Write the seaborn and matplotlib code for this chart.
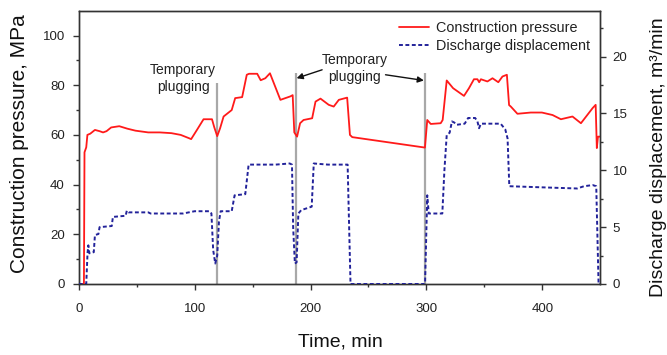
import numpy as np
import pandas as pd
import matplotlib
matplotlib.use("Agg")
import matplotlib.pyplot as plt
import seaborn as sns

# ---- data ----
t_pressure = [0, 4.5, 5.0, 6.5, 7.5, 10, 14, 18, 21, 24, 28, 35, 42, 49, 60, 70, 80, 88, 95, 97,
              102, 107.7, 115, 117, 119.5, 122, 125, 132, 135, 141, 145, 147, 154, 157, 161, 165,
              174, 182.6, 184.6, 186, 188.4, 191, 194, 201.4, 204.3, 208.6, 215.7, 220, 224.4,
              231.6, 234, 236, 298.7, 300.7, 303.7, 312.3, 314, 317.5, 323, 332.4, 336.7, 341,
              344, 345.5, 347, 352.6, 357, 362, 365.6, 369.4, 371.3, 372.8, 378.5, 390, 399.6,
              408.8, 416, 426, 433.3, 443.4, 446, 447, 448, 449.5]
pressure = [0, 0, 53, 55, 60, 60.5, 62, 61.5, 61, 61.5, 63, 63.5, 62.5, 61.7, 61, 61, 60.7, 60, 58.7, 58.3,
            62, 66.3, 66.3, 63, 59.5, 62.7, 67.4, 70, 74.8, 75.2, 84.2, 84.6, 84.6, 82, 82.8, 84.8,
            74.1, 75.5, 76, 61, 59.3, 64.7, 66, 66.7, 73.4, 74.6, 72.1, 71.4, 74.1,
            75, 60, 59.1, 54.9, 66, 64.4, 64.7, 66, 81.9, 78.8, 75.7, 78.8, 82.4,
            82.4, 81.2, 82.4, 81.5, 82.8, 81.2, 83.5, 84.2, 72, 71.4, 68.5, 69, 69,
            68, 66.3, 67.4, 64.7, 70.8, 72.1, 54.7, 59.3, 59.3]

t_discharge = [0, 6.5, 7.6, 8.3, 9.2, 13, 14, 17, 18, 28.5, 29.5, 40.5, 41.5, 43, 60, 62, 90, 100,
               113, 114.5, 116, 117.8, 119.5, 121, 122.5, 132, 134.5, 143.7, 146.6, 170, 182, 184,
               185, 186.5, 188, 189.5, 192, 201, 202.8, 215, 232, 234.5, 298.8, 300.7, 302, 313.7,
               315.5, 317.5, 320, 322, 324, 326, 333, 336, 342, 344, 345.4, 347, 364, 368, 370,
               371.5, 400, 430, 436, 443.4, 446.5, 448.5, 450]
discharge = [0, 0, 2.7, 3.4, 2.7, 2.8, 4.3, 4.4, 5.0, 5.1, 5.9, 6.0, 6.45, 6.3, 6.3, 6.2, 6.2, 6.4,
             6.4, 6.2, 3.0, 1.8, 2.5, 5.5, 6.4, 6.4, 7.8, 7.9, 10.5, 10.5, 10.6, 10.5,
             5.0, 1.8, 1.9, 6.2, 6.5, 6.8, 10.6, 10.5, 10.5, 0, 0, 7.8, 6.2, 6.2,
             10.0, 13.1, 13.3, 14.3, 14.2, 14.0, 14.1, 14.6, 14.6, 14.3, 13.7, 14.1, 14.1, 13.6, 12.8,
             8.6, 8.5, 8.4, 8.6, 8.7, 8.6, 0, 0]

plug_times = [119.5, 187.7, 298.5]
plug_tops = [81, 85, 85]

df_p = pd.DataFrame({"Time": t_pressure, "Pressure": pressure})
df_q = pd.DataFrame({"Time": t_discharge, "Discharge": discharge})

sns.set_style("ticks")
plt.rcParams["font.family"] = ["Liberation Sans", "DejaVu Sans"]

fig = plt.figure(figsize=(6.67, 3.55), dpi=100)
ax = fig.add_axes([0.118, 0.2, 0.782, 0.77])
ax2 = ax.twinx()

axis_col = "#333333"

# gray plugging lines
ax.vlines(plug_times, 0, plug_tops, colors="#a8a8a8", linewidth=1.6, zorder=1)

sns.lineplot(data=df_p, x="Time", y="Pressure", ax=ax, color="#ff1a1a", linewidth=1.3,
             estimator=None, sort=False, label="Construction pressure", legend=False, zorder=3)
sns.lineplot(data=df_q, x="Time", y="Discharge", ax=ax2, color="#22229a", linewidth=1.4,
             estimator=None, sort=False, label="Discharge displacement", legend=False, zorder=3)
ax2.lines[-1].set_linestyle((0, (2.0, 1.3)))

ax.set_xlim(0, 450)
ax.set_ylim(0, 110)
ax2.set_ylim(0, 24.04)

ax.set_xticks([0, 100, 200, 300, 400])
ax.set_xticks(np.arange(50, 450, 100), minor=True)
ax.set_yticks([0, 20, 40, 60, 80, 100])
ax.set_yticks(np.arange(10, 110, 20), minor=True)
ax2.set_yticks([0, 5, 10, 15, 20])
ax2.set_yticks(np.arange(2.5, 24, 5), minor=True)

for a in (ax, ax2):
    a.tick_params(which="major", direction="out", length=4, width=1, colors=axis_col,
                  labelsize=9.5, labelcolor="#222222")
    a.tick_params(which="minor", direction="out", length=2.5, width=1, colors=axis_col)
    for s in a.spines.values():
        s.set_color(axis_col)
        s.set_linewidth(1)
        s.set_visible(True)
ax.tick_params(axis="x", which="major", pad=9.5)
ax.tick_params(axis="y", which="major", pad=6)
ax2.tick_params(axis="y", which="major", pad=5)

ax.set_xlabel("Time, min", fontsize=14, color="#111111")
ax.set_ylabel("Construction pressure, MPa", fontsize=15, color="#111111")
ax2.set_ylabel("Discharge displacement, m³/min", fontsize=14, color="#111111")
ax.xaxis.set_label_coords(0.501, -0.211)
ax.yaxis.set_label_coords(-0.1126, 0.512)
ax2.yaxis.set_label_coords(1.111, 0.463)
ax.xaxis.label.set_va("center")
ax.yaxis.label.set_va("center")
ax2.yaxis.label.set_va("center")

# annotations
ax.text(90, 82.6, "Temporary\nplugging", ha="center", va="center", fontsize=10,
        color="#222222", linespacing=1.25, zorder=4)
ax.text(238, 86.6, "Temporary\nplugging", ha="center", va="center", fontsize=10,
        color="#222222", linespacing=1.25, zorder=4)
arrow = dict(arrowstyle="-|>", color="#111111", lw=1.0, mutation_scale=9, shrinkA=0, shrinkB=0)
ax.annotate("", xy=(188, 82.8), xytext=(210, 86.2), arrowprops=arrow)
ax.annotate("", xy=(297.8, 81.9), xytext=(264.7, 84.2), arrowprops=arrow)

# legend
h1, l1 = ax.get_legend_handles_labels()
h2, l2 = ax2.get_legend_handles_labels()
leg = ax2.legend(h1 + h2, l1 + l2, loc="upper right", bbox_to_anchor=(1.0, 1.0),
                 frameon=False, fontsize=10.4, handlelength=2.1, handletextpad=0.5,
                 labelspacing=0.3, borderaxespad=0.3)
for t in leg.get_texts():
    t.set_color("#222222")

fig.savefig("out.png", dpi=100)
